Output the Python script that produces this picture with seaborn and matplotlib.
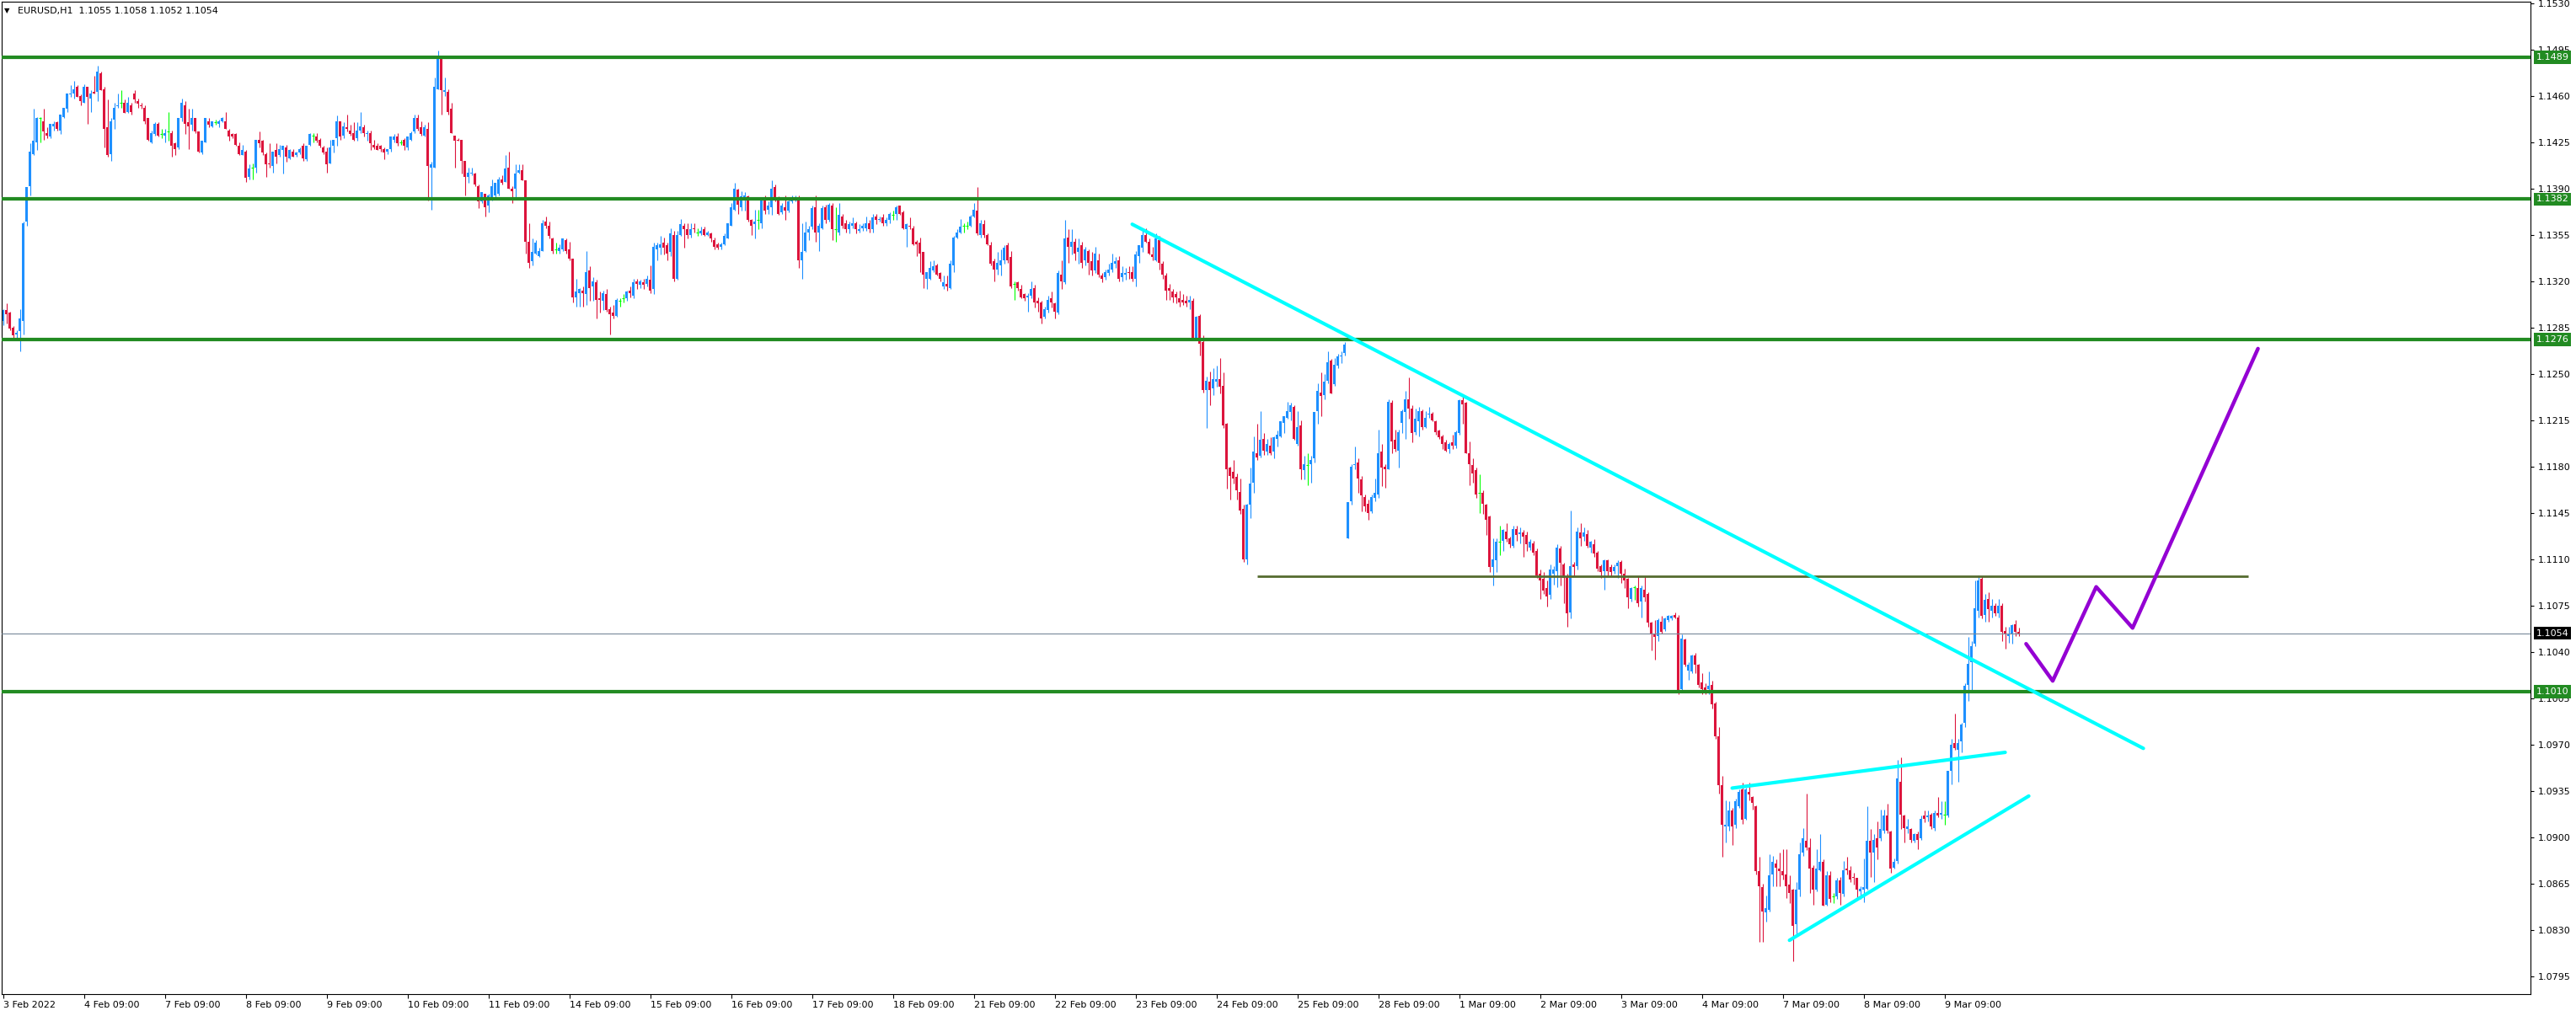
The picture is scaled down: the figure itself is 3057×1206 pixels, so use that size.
import numpy as np
import pandas as pd
import matplotlib
matplotlib.use("Agg")
import matplotlib.pyplot as plt
import seaborn as sns

# ---------------- data (EURUSD H1, 3 Feb 2022 09:00 -> 10 Mar 2022 07:00) ----------------
symbol = "EURUSD,H1"

opens = [
    1.1290, 1.1298, 1.1296, 1.1285, 1.1280, 1.1282, 1.1290, 1.1365, 1.1392, 1.1416,
    1.1425, 1.1443, 1.1441, 1.1432, 1.1429, 1.1437, 1.1440, 1.1434, 1.1444, 1.1450,
    1.1461, 1.1462, 1.1467, 1.1460, 1.1455, 1.1467, 1.1458, 1.1463, 1.1463, 1.1477,
    1.1465, 1.1436, 1.1416, 1.1442, 1.1452, 1.1455, 1.1455, 1.1448, 1.1453, 1.1462,
    1.1456, 1.1453, 1.1451, 1.1443, 1.1425, 1.1431, 1.1439, 1.1431, 1.1430, 1.1433,
    1.1432, 1.1424, 1.1421, 1.1443, 1.1453, 1.1440, 1.1438, 1.1443, 1.1433, 1.1417,
    1.1425, 1.1441, 1.1437, 1.1440, 1.1439, 1.1441, 1.1441, 1.1434, 1.1431, 1.1431,
    1.1422, 1.1415, 1.1418, 1.1399, 1.1406, 1.1406, 1.1427, 1.1426, 1.1416, 1.1409,
    1.1407, 1.1419, 1.1415, 1.1419, 1.1421, 1.1413, 1.1418, 1.1415, 1.1417, 1.1422,
    1.1412, 1.1423, 1.1430, 1.1429, 1.1427, 1.1421, 1.1418, 1.1409, 1.1422, 1.1428,
    1.1441, 1.1430, 1.1436, 1.1434, 1.1432, 1.1428, 1.1434, 1.1436, 1.1431, 1.1432,
    1.1423, 1.1422, 1.1422, 1.1420, 1.1418, 1.1420, 1.1427, 1.1429, 1.1425, 1.1427,
    1.1421, 1.1427, 1.1433, 1.1443, 1.1436, 1.1430, 1.1435, 1.1406, 1.1406, 1.1465,
    1.1488, 1.1463, 1.1463, 1.1450, 1.1430, 1.1427, 1.1427, 1.1411, 1.1399, 1.1401,
    1.1401, 1.1392, 1.1380, 1.1386, 1.1377, 1.1382, 1.1385, 1.1386, 1.1397, 1.1395,
    1.1406, 1.1390, 1.1390, 1.1402, 1.1404, 1.1396, 1.1350, 1.1335, 1.1341, 1.1339,
    1.1343, 1.1365, 1.1362, 1.1352, 1.1344, 1.1343, 1.1344, 1.1351, 1.1344, 1.1337,
    1.1308, 1.1311, 1.1313, 1.1310, 1.1328, 1.1316, 1.1319, 1.1307, 1.1305, 1.1310,
    1.1299, 1.1296, 1.1294, 1.1305, 1.1307, 1.1307, 1.1313, 1.1309, 1.1320, 1.1317,
    1.1319, 1.1318, 1.1321, 1.1314, 1.1344, 1.1345, 1.1349, 1.1347, 1.1342, 1.1355,
    1.1322, 1.1355, 1.1362, 1.1359, 1.1355, 1.1360, 1.1357, 1.1356, 1.1359, 1.1355,
    1.1356, 1.1351, 1.1348, 1.1346, 1.1348, 1.1352, 1.1362, 1.1374, 1.1389, 1.1376,
    1.1382, 1.1384, 1.1366, 1.1363, 1.1366, 1.1364, 1.1383, 1.1374, 1.1376, 1.1391,
    1.1383, 1.1372, 1.1376, 1.1373, 1.1380, 1.1381, 1.1382, 1.1336, 1.1343, 1.1357,
    1.1361, 1.1376, 1.1357, 1.1360, 1.1376, 1.1366, 1.1377, 1.1359, 1.1357, 1.1369,
    1.1364, 1.1359, 1.1362, 1.1364, 1.1358, 1.1360, 1.1360, 1.1364, 1.1359, 1.1369,
    1.1366, 1.1368, 1.1364, 1.1366, 1.1370, 1.1371, 1.1377, 1.1372, 1.1359, 1.1362,
    1.1360, 1.1350, 1.1349, 1.1342, 1.1322, 1.1322, 1.1328, 1.1332, 1.1326, 1.1316,
    1.1318, 1.1315, 1.1332, 1.1353, 1.1357, 1.1362, 1.1362, 1.1362, 1.1369, 1.1373,
    1.1355, 1.1363, 1.1355, 1.1347, 1.1335, 1.1329, 1.1332, 1.1336, 1.1347, 1.1338,
    1.1318, 1.1319, 1.1314, 1.1310, 1.1308, 1.1309, 1.1315, 1.1305, 1.1304, 1.1293,
    1.1298, 1.1307, 1.1303, 1.1296, 1.1325, 1.1319, 1.1353, 1.1346, 1.1350, 1.1342,
    1.1347, 1.1336, 1.1343, 1.1335, 1.1328, 1.1336, 1.1324, 1.1323, 1.1326, 1.1329,
    1.1333, 1.1336, 1.1323, 1.1325, 1.1327, 1.1327, 1.1322, 1.1339, 1.1345, 1.1355,
    1.1350, 1.1340, 1.1336, 1.1351, 1.1333, 1.1324, 1.1315, 1.1312, 1.1310, 1.1307,
    1.1306, 1.1305, 1.1304, 1.1305, 1.1277, 1.1294, 1.1274, 1.1238, 1.1244, 1.1239,
    1.1244, 1.1246, 1.1241, 1.1212, 1.1179, 1.1176, 1.1172, 1.1161, 1.1148, 1.1110,
    1.1151, 1.1168, 1.1190, 1.1188, 1.1201, 1.1191, 1.1196, 1.1191, 1.1201, 1.1203,
    1.1213, 1.1217, 1.1221, 1.1225, 1.1197, 1.1211, 1.1177, 1.1181, 1.1182, 1.1186,
    1.1222, 1.1236, 1.1234, 1.1245, 1.1260, 1.1242, 1.1256, 1.1263, 1.1266, 1.1126,
    1.1154, 1.1181, 1.1183, 1.1170, 1.1157, 1.1152, 1.1146, 1.1156, 1.1159, 1.1191,
    1.1180, 1.1178, 1.1228, 1.1200, 1.1192, 1.1213, 1.1221, 1.1231, 1.1224, 1.1206,
    1.1214, 1.1222, 1.1210, 1.1219, 1.1220, 1.1214, 1.1207, 1.1203, 1.1198, 1.1193,
    1.1198, 1.1196, 1.1205, 1.1230, 1.1228, 1.1190, 1.1181, 1.1177, 1.1160, 1.1160,
    1.1151, 1.1142, 1.1104, 1.1109, 1.1123, 1.1124, 1.1131, 1.1126, 1.1120, 1.1133,
    1.1129, 1.1130, 1.1128, 1.1119, 1.1122, 1.1116, 1.1099, 1.1095, 1.1088, 1.1083,
    1.1099, 1.1101, 1.1118, 1.1106, 1.1097, 1.1070, 1.1106, 1.1105, 1.1130, 1.1127,
    1.1129, 1.1119, 1.1121, 1.1115, 1.1105, 1.1101, 1.1109, 1.1104, 1.1101, 1.1105,
    1.1108, 1.1099, 1.1095, 1.1080, 1.1089, 1.1088, 1.1078, 1.1087, 1.1084, 1.1062,
    1.1054, 1.1052, 1.1063, 1.1057, 1.1064, 1.1065, 1.1068, 1.1066, 1.1012, 1.1049,
    1.1026, 1.1025, 1.1037, 1.1030, 1.1017, 1.1013, 1.1012, 1.1015, 1.1001, 1.0976,
    1.0939, 1.0908, 1.0908, 1.0920, 1.0909, 1.0923, 1.0936, 1.0914, 1.0934, 1.0930,
    1.0923, 1.0874, 1.0862, 1.0843, 1.0845, 1.0872, 1.0880, 1.0876, 1.0874, 1.0872,
    1.0864, 1.0860, 1.0834, 1.0860, 1.0888, 1.0897, 1.0892, 1.0877, 1.0860, 1.0875,
    1.0881, 1.0849, 1.0871, 1.0855, 1.0855, 1.0867, 1.0857, 1.0876, 1.0875, 1.0870,
    1.0869, 1.0859, 1.0860, 1.0861, 1.0897, 1.0888, 1.0899, 1.0899, 1.0905, 1.0916,
    1.0904, 1.0877, 1.0882, 1.0942, 1.0916, 1.0906, 1.0906, 1.0897, 1.0902, 1.0899,
    1.0916, 1.0915, 1.0917, 1.0907, 1.0918, 1.0917, 1.0917, 1.0916, 1.0950, 1.0971,
    1.0966, 1.0972, 1.0986, 1.1015, 1.1032, 1.1046, 1.1071, 1.1095, 1.1068, 1.1080,
    1.1071, 1.1075, 1.1069, 1.1075, 1.1056, 1.1052, 1.1054, 1.1061, 1.1055,
]

highs = [
    1.1299, 1.1303, 1.1297, 1.1286, 1.1283, 1.1299, 1.1365, 1.1391, 1.1424, 1.1450,
    1.1444, 1.1444, 1.1450, 1.1436, 1.1439, 1.1441, 1.1441, 1.1446, 1.1451, 1.1462,
    1.1468, 1.1471, 1.1468, 1.1461, 1.1469, 1.1467, 1.1464, 1.1475, 1.1483, 1.1478,
    1.1467, 1.1457, 1.1443, 1.1455, 1.1462, 1.1464, 1.1457, 1.1459, 1.1455, 1.1464,
    1.1458, 1.1455, 1.1453, 1.1443, 1.1434, 1.1440, 1.1440, 1.1435, 1.1435, 1.1448,
    1.1434, 1.1425, 1.1443, 1.1458, 1.1456, 1.1450, 1.1450, 1.1443, 1.1433, 1.1426,
    1.1443, 1.1443, 1.1441, 1.1442, 1.1442, 1.1444, 1.1448, 1.1435, 1.1432, 1.1432,
    1.1425, 1.1423, 1.1419, 1.1408, 1.1409, 1.1427, 1.1433, 1.1427, 1.1417, 1.1424,
    1.1418, 1.1424, 1.1423, 1.1422, 1.1423, 1.1420, 1.1420, 1.1418, 1.1421, 1.1424,
    1.1422, 1.1432, 1.1432, 1.1432, 1.1428, 1.1422, 1.1421, 1.1427, 1.1427, 1.1445,
    1.1441, 1.1440, 1.1446, 1.1438, 1.1440, 1.1440, 1.1448, 1.1438, 1.1434, 1.1434,
    1.1427, 1.1424, 1.1423, 1.1421, 1.1420, 1.1429, 1.1431, 1.1432, 1.1427, 1.1428,
    1.1429, 1.1433, 1.1446, 1.1446, 1.1441, 1.1438, 1.1440, 1.1410, 1.1474, 1.1494,
    1.1489, 1.1474, 1.1465, 1.1455, 1.1430, 1.1428, 1.1427, 1.1411, 1.1406, 1.1406,
    1.1402, 1.1393, 1.1387, 1.1386, 1.1386, 1.1397, 1.1394, 1.1399, 1.1400, 1.1415,
    1.1418, 1.1392, 1.1408, 1.1408, 1.1408, 1.1396, 1.1364, 1.1352, 1.1351, 1.1345,
    1.1366, 1.1369, 1.1365, 1.1353, 1.1349, 1.1348, 1.1352, 1.1352, 1.1350, 1.1337,
    1.1322, 1.1315, 1.1316, 1.1343, 1.1331, 1.1323, 1.1321, 1.1312, 1.1313, 1.1314,
    1.1301, 1.1302, 1.1307, 1.1307, 1.1310, 1.1313, 1.1316, 1.1322, 1.1322, 1.1321,
    1.1322, 1.1324, 1.1332, 1.1349, 1.1349, 1.1354, 1.1353, 1.1349, 1.1360, 1.1358,
    1.1358, 1.1367, 1.1364, 1.1364, 1.1364, 1.1364, 1.1360, 1.1361, 1.1361, 1.1358,
    1.1357, 1.1353, 1.1349, 1.1349, 1.1356, 1.1364, 1.1379, 1.1394, 1.1390, 1.1388,
    1.1387, 1.1385, 1.1367, 1.1374, 1.1374, 1.1383, 1.1385, 1.1380, 1.1396, 1.1393,
    1.1384, 1.1379, 1.1385, 1.1383, 1.1385, 1.1385, 1.1385, 1.1364, 1.1365, 1.1362,
    1.1377, 1.1385, 1.1364, 1.1377, 1.1378, 1.1379, 1.1379, 1.1376, 1.1379, 1.1371,
    1.1366, 1.1365, 1.1368, 1.1365, 1.1363, 1.1364, 1.1369, 1.1366, 1.1371, 1.1371,
    1.1369, 1.1371, 1.1368, 1.1372, 1.1373, 1.1377, 1.1377, 1.1373, 1.1364, 1.1368,
    1.1362, 1.1351, 1.1353, 1.1342, 1.1327, 1.1335, 1.1336, 1.1333, 1.1327, 1.1324,
    1.1324, 1.1336, 1.1354, 1.1359, 1.1367, 1.1364, 1.1365, 1.1370, 1.1379, 1.1391,
    1.1366, 1.1366, 1.1356, 1.1350, 1.1337, 1.1342, 1.1344, 1.1347, 1.1349, 1.1343,
    1.1320, 1.1320, 1.1317, 1.1311, 1.1311, 1.1320, 1.1317, 1.1308, 1.1305, 1.1301,
    1.1309, 1.1312, 1.1304, 1.1328, 1.1336, 1.1366, 1.1359, 1.1359, 1.1352, 1.1352,
    1.1350, 1.1346, 1.1344, 1.1342, 1.1346, 1.1341, 1.1326, 1.1329, 1.1333, 1.1341,
    1.1338, 1.1339, 1.1331, 1.1330, 1.1331, 1.1331, 1.1343, 1.1347, 1.1360, 1.1360,
    1.1352, 1.1346, 1.1356, 1.1354, 1.1335, 1.1326, 1.1318, 1.1314, 1.1312, 1.1313,
    1.1310, 1.1309, 1.1309, 1.1307, 1.1294, 1.1295, 1.1279, 1.1248, 1.1252, 1.1254,
    1.1256, 1.1262, 1.1251, 1.1213, 1.1180, 1.1185, 1.1175, 1.1171, 1.1151, 1.1152,
    1.1179, 1.1203, 1.1212, 1.1222, 1.1205, 1.1201, 1.1202, 1.1203, 1.1207, 1.1214,
    1.1218, 1.1229, 1.1228, 1.1226, 1.1222, 1.1215, 1.1188, 1.1190, 1.1188, 1.1221,
    1.1243, 1.1251, 1.1250, 1.1267, 1.1261, 1.1262, 1.1265, 1.1267, 1.1274, 1.1153,
    1.1182, 1.1195, 1.1186, 1.1173, 1.1159, 1.1155, 1.1159, 1.1171, 1.1208, 1.1197,
    1.1182, 1.1231, 1.1230, 1.1208, 1.1208, 1.1223, 1.1237, 1.1247, 1.1226, 1.1224,
    1.1225, 1.1223, 1.1222, 1.1225, 1.1221, 1.1215, 1.1208, 1.1204, 1.1200, 1.1198,
    1.1204, 1.1207, 1.1231, 1.1233, 1.1229, 1.1199, 1.1186, 1.1179, 1.1174, 1.1162,
    1.1152, 1.1143, 1.1126, 1.1126, 1.1135, 1.1133, 1.1137, 1.1127, 1.1135, 1.1135,
    1.1134, 1.1132, 1.1131, 1.1125, 1.1124, 1.1118, 1.1102, 1.1100, 1.1094, 1.1106,
    1.1105, 1.1121, 1.1120, 1.1107, 1.1099, 1.1147, 1.1108, 1.1134, 1.1137, 1.1134,
    1.1132, 1.1124, 1.1125, 1.1116, 1.1106, 1.1110, 1.1110, 1.1106, 1.1106, 1.1109,
    1.1109, 1.1103, 1.1096, 1.1089, 1.1090, 1.1097, 1.1090, 1.1097, 1.1085, 1.1063,
    1.1064, 1.1065, 1.1067, 1.1066, 1.1068, 1.1068, 1.1070, 1.1068, 1.1053, 1.1050,
    1.1032, 1.1038, 1.1039, 1.1031, 1.1024, 1.1016, 1.1025, 1.1018, 1.1002, 1.0983,
    1.0946, 1.0928, 1.0927, 1.0922, 1.0929, 1.0936, 1.0941, 1.0937, 1.0941, 1.0931,
    1.0924, 1.0885, 1.0865, 1.0856, 1.0887, 1.0886, 1.0883, 1.0888, 1.0891, 1.0891,
    1.0871, 1.0861, 1.0866, 1.0896, 1.0907, 1.0933, 1.0899, 1.0879, 1.0891, 1.0902,
    1.0883, 1.0874, 1.0874, 1.0858, 1.0869, 1.0870, 1.0882, 1.0885, 1.0878, 1.0873,
    1.0869, 1.0863, 1.0884, 1.0923, 1.0906, 1.0902, 1.0912, 1.0921, 1.0921, 1.0925,
    1.0905, 1.0884, 1.0958, 1.0960, 1.0917, 1.0914, 1.0907, 1.0903, 1.0904, 1.0916,
    1.0920, 1.0920, 1.0918, 1.0920, 1.0930, 1.0927, 1.0927, 1.0950, 1.0974, 1.0993,
    1.0974, 1.0986, 1.1016, 1.1051, 1.1048, 1.1094, 1.1098, 1.1097, 1.1084, 1.1085,
    1.1080, 1.1077, 1.1080, 1.1077, 1.1059, 1.1059, 1.1061, 1.1064, 1.1058,
]

lows = [
    1.1287, 1.1288, 1.1283, 1.1277, 1.1276, 1.1267, 1.1280, 1.1362, 1.1385, 1.1415,
    1.1419, 1.1425, 1.1427, 1.1428, 1.1428, 1.1434, 1.1434, 1.1431, 1.1443, 1.1448,
    1.1459, 1.1458, 1.1459, 1.1453, 1.1455, 1.1439, 1.1448, 1.1462, 1.1456, 1.1464,
    1.1421, 1.1414, 1.1411, 1.1435, 1.1451, 1.1451, 1.1447, 1.1447, 1.1446, 1.1455,
    1.1451, 1.1450, 1.1439, 1.1426, 1.1424, 1.1430, 1.1429, 1.1428, 1.1425, 1.1426,
    1.1414, 1.1415, 1.1420, 1.1441, 1.1431, 1.1420, 1.1434, 1.1432, 1.1417, 1.1416,
    1.1425, 1.1436, 1.1436, 1.1438, 1.1436, 1.1440, 1.1435, 1.1426, 1.1428, 1.1422,
    1.1415, 1.1415, 1.1395, 1.1397, 1.1397, 1.1402, 1.1421, 1.1415, 1.1399, 1.1406,
    1.1402, 1.1409, 1.1414, 1.1401, 1.1410, 1.1412, 1.1414, 1.1414, 1.1416, 1.1411,
    1.1411, 1.1422, 1.1425, 1.1425, 1.1421, 1.1416, 1.1402, 1.1409, 1.1417, 1.1422,
    1.1427, 1.1428, 1.1433, 1.1430, 1.1426, 1.1426, 1.1432, 1.1429, 1.1426, 1.1419,
    1.1420, 1.1419, 1.1418, 1.1412, 1.1416, 1.1418, 1.1425, 1.1422, 1.1423, 1.1419,
    1.1419, 1.1426, 1.1432, 1.1434, 1.1430, 1.1429, 1.1381, 1.1374, 1.1406, 1.1465,
    1.1446, 1.1460, 1.1446, 1.1432, 1.1406, 1.1426, 1.1401, 1.1385, 1.1394, 1.1400,
    1.1392, 1.1375, 1.1379, 1.1369, 1.1372, 1.1381, 1.1382, 1.1385, 1.1393, 1.1395,
    1.1390, 1.1379, 1.1383, 1.1401, 1.1396, 1.1341, 1.1330, 1.1332, 1.1340, 1.1338,
    1.1343, 1.1360, 1.1352, 1.1341, 1.1341, 1.1341, 1.1343, 1.1341, 1.1336, 1.1304,
    1.1301, 1.1301, 1.1301, 1.1302, 1.1305, 1.1305, 1.1292, 1.1296, 1.1298, 1.1297,
    1.1280, 1.1292, 1.1293, 1.1301, 1.1304, 1.1305, 1.1308, 1.1307, 1.1314, 1.1315,
    1.1314, 1.1316, 1.1311, 1.1310, 1.1336, 1.1340, 1.1340, 1.1336, 1.1339, 1.1320,
    1.1321, 1.1354, 1.1345, 1.1352, 1.1353, 1.1357, 1.1354, 1.1355, 1.1354, 1.1354,
    1.1350, 1.1344, 1.1344, 1.1344, 1.1347, 1.1352, 1.1362, 1.1373, 1.1371, 1.1373,
    1.1373, 1.1365, 1.1355, 1.1352, 1.1359, 1.1360, 1.1371, 1.1371, 1.1370, 1.1380,
    1.1370, 1.1371, 1.1366, 1.1372, 1.1379, 1.1380, 1.1330, 1.1322, 1.1342, 1.1351,
    1.1359, 1.1350, 1.1343, 1.1359, 1.1364, 1.1365, 1.1351, 1.1350, 1.1355, 1.1360,
    1.1357, 1.1356, 1.1360, 1.1356, 1.1357, 1.1358, 1.1358, 1.1357, 1.1357, 1.1363,
    1.1365, 1.1362, 1.1362, 1.1364, 1.1366, 1.1366, 1.1370, 1.1359, 1.1346, 1.1359,
    1.1347, 1.1339, 1.1327, 1.1315, 1.1314, 1.1321, 1.1327, 1.1324, 1.1320, 1.1314,
    1.1313, 1.1314, 1.1327, 1.1352, 1.1356, 1.1357, 1.1359, 1.1361, 1.1368, 1.1355,
    1.1353, 1.1353, 1.1347, 1.1332, 1.1320, 1.1325, 1.1324, 1.1333, 1.1334, 1.1315,
    1.1306, 1.1313, 1.1307, 1.1305, 1.1297, 1.1307, 1.1300, 1.1297, 1.1288, 1.1292,
    1.1296, 1.1300, 1.1292, 1.1295, 1.1314, 1.1318, 1.1334, 1.1340, 1.1336, 1.1333,
    1.1330, 1.1332, 1.1325, 1.1324, 1.1326, 1.1323, 1.1319, 1.1321, 1.1324, 1.1327,
    1.1330, 1.1320, 1.1320, 1.1321, 1.1322, 1.1320, 1.1316, 1.1334, 1.1342, 1.1349,
    1.1340, 1.1336, 1.1335, 1.1329, 1.1322, 1.1306, 1.1306, 1.1304, 1.1303, 1.1301,
    1.1302, 1.1301, 1.1299, 1.1275, 1.1275, 1.1264, 1.1236, 1.1209, 1.1226, 1.1234,
    1.1240, 1.1235, 1.1209, 1.1163, 1.1155, 1.1167, 1.1155, 1.1144, 1.1108, 1.1106,
    1.1141, 1.1160, 1.1185, 1.1187, 1.1189, 1.1189, 1.1189, 1.1186, 1.1195, 1.1202,
    1.1205, 1.1216, 1.1215, 1.1200, 1.1196, 1.1170, 1.1170, 1.1166, 1.1168, 1.1183,
    1.1212, 1.1218, 1.1231, 1.1243, 1.1235, 1.1241, 1.1254, 1.1258, 1.1264, 1.1126,
    1.1151, 1.1178, 1.1160, 1.1146, 1.1146, 1.1140, 1.1145, 1.1154, 1.1156, 1.1165,
    1.1164, 1.1178, 1.1190, 1.1191, 1.1179, 1.1205, 1.1201, 1.1216, 1.1198, 1.1204,
    1.1203, 1.1208, 1.1209, 1.1217, 1.1214, 1.1204, 1.1201, 1.1193, 1.1191, 1.1190,
    1.1193, 1.1194, 1.1204, 1.1212, 1.1190, 1.1166, 1.1168, 1.1156, 1.1145, 1.1144,
    1.1128, 1.1100, 1.1090, 1.1100, 1.1113, 1.1116, 1.1123, 1.1119, 1.1119, 1.1124,
    1.1122, 1.1112, 1.1116, 1.1117, 1.1113, 1.1096, 1.1080, 1.1084, 1.1074, 1.1080,
    1.1091, 1.1089, 1.1090, 1.1077, 1.1059, 1.1065, 1.1097, 1.1102, 1.1120, 1.1124,
    1.1119, 1.1115, 1.1112, 1.1101, 1.1096, 1.1087, 1.1098, 1.1097, 1.1099, 1.1096,
    1.1092, 1.1088, 1.1073, 1.1078, 1.1079, 1.1074, 1.1066, 1.1078, 1.1059, 1.1041,
    1.1034, 1.1048, 1.1054, 1.1056, 1.1063, 1.1064, 1.1065, 1.1008, 1.1010, 1.1029,
    1.1019, 1.1024, 1.1024, 1.1013, 1.1008, 1.1008, 1.1008, 1.0997, 1.0974, 1.0933,
    1.0885, 1.0896, 1.0905, 1.0894, 1.0907, 1.0922, 1.0910, 1.0913, 1.0928, 1.0921,
    1.0872, 1.0821, 1.0821, 1.0836, 1.0844, 1.0863, 1.0863, 1.0863, 1.0868, 1.0854,
    1.0850, 1.0806, 1.0825, 1.0855, 1.0886, 1.0890, 1.0858, 1.0849, 1.0859, 1.0874,
    1.0848, 1.0848, 1.0851, 1.0850, 1.0853, 1.0849, 1.0855, 1.0872, 1.0866, 1.0864,
    1.0854, 1.0853, 1.0851, 1.0860, 1.0870, 1.0866, 1.0883, 1.0897, 1.0903, 1.0903,
    1.0873, 1.0876, 1.0880, 1.0906, 1.0896, 1.0903, 1.0896, 1.0896, 1.0891, 1.0898,
    1.0911, 1.0912, 1.0906, 1.0905, 1.0915, 1.0914, 1.0909, 1.0915, 1.0940, 1.0966,
    1.0942, 1.0964, 1.0983, 1.1003, 1.1011, 1.1044, 1.1066, 1.1065, 1.1063, 1.1063,
    1.1066, 1.1067, 1.1066, 1.1048, 1.1042, 1.1047, 1.1046, 1.1052, 1.1052,
]

closes = [
    1.1298, 1.1295, 1.1284, 1.1279, 1.1281, 1.1292, 1.1364, 1.1391, 1.1418, 1.1426,
    1.1443, 1.1443, 1.1433, 1.1430, 1.1439, 1.1439, 1.1435, 1.1446, 1.1451, 1.1462,
    1.1462, 1.1465, 1.1459, 1.1456, 1.1467, 1.1459, 1.1462, 1.1462, 1.1478, 1.1464,
    1.1435, 1.1415, 1.1441, 1.1451, 1.1453, 1.1455, 1.1447, 1.1455, 1.1448, 1.1457,
    1.1454, 1.1452, 1.1441, 1.1427, 1.1432, 1.1439, 1.1430, 1.1431, 1.1432, 1.1433,
    1.1422, 1.1420, 1.1443, 1.1455, 1.1439, 1.1437, 1.1443, 1.1433, 1.1418, 1.1426,
    1.1443, 1.1438, 1.1441, 1.1440, 1.1441, 1.1443, 1.1435, 1.1429, 1.1429, 1.1423,
    1.1416, 1.1419, 1.1398, 1.1405, 1.1406, 1.1427, 1.1424, 1.1417, 1.1408, 1.1408,
    1.1418, 1.1414, 1.1420, 1.1422, 1.1414, 1.1419, 1.1414, 1.1417, 1.1420, 1.1413,
    1.1422, 1.1431, 1.1430, 1.1426, 1.1422, 1.1417, 1.1408, 1.1421, 1.1427, 1.1441,
    1.1429, 1.1437, 1.1435, 1.1431, 1.1427, 1.1434, 1.1437, 1.1432, 1.1432, 1.1424,
    1.1421, 1.1419, 1.1420, 1.1417, 1.1420, 1.1429, 1.1429, 1.1424, 1.1425, 1.1422,
    1.1429, 1.1432, 1.1443, 1.1435, 1.1431, 1.1436, 1.1407, 1.1408, 1.1467, 1.1488,
    1.1464, 1.1464, 1.1448, 1.1432, 1.1426, 1.1426, 1.1411, 1.1399, 1.1402, 1.1402,
    1.1393, 1.1380, 1.1387, 1.1376, 1.1385, 1.1392, 1.1394, 1.1397, 1.1394, 1.1405,
    1.1390, 1.1388, 1.1401, 1.1404, 1.1396, 1.1350, 1.1334, 1.1342, 1.1349, 1.1343,
    1.1364, 1.1362, 1.1354, 1.1343, 1.1344, 1.1345, 1.1352, 1.1343, 1.1337, 1.1308,
    1.1312, 1.1314, 1.1311, 1.1327, 1.1315, 1.1320, 1.1306, 1.1306, 1.1311, 1.1298,
    1.1295, 1.1294, 1.1306, 1.1305, 1.1307, 1.1312, 1.1311, 1.1319, 1.1318, 1.1320,
    1.1317, 1.1322, 1.1313, 1.1346, 1.1347, 1.1348, 1.1345, 1.1341, 1.1356, 1.1322,
    1.1355, 1.1363, 1.1359, 1.1355, 1.1359, 1.1359, 1.1357, 1.1358, 1.1355, 1.1357,
    1.1352, 1.1346, 1.1345, 1.1348, 1.1354, 1.1364, 1.1376, 1.1390, 1.1378, 1.1384,
    1.1385, 1.1366, 1.1362, 1.1365, 1.1366, 1.1381, 1.1373, 1.1377, 1.1390, 1.1381,
    1.1371, 1.1377, 1.1373, 1.1380, 1.1382, 1.1383, 1.1336, 1.1342, 1.1357, 1.1359,
    1.1375, 1.1357, 1.1362, 1.1375, 1.1366, 1.1378, 1.1359, 1.1359, 1.1370, 1.1362,
    1.1359, 1.1363, 1.1364, 1.1359, 1.1359, 1.1362, 1.1364, 1.1359, 1.1368, 1.1366,
    1.1367, 1.1364, 1.1366, 1.1371, 1.1370, 1.1376, 1.1371, 1.1360, 1.1363, 1.1361,
    1.1348, 1.1348, 1.1341, 1.1325, 1.1327, 1.1330, 1.1331, 1.1325, 1.1322, 1.1319,
    1.1316, 1.1333, 1.1353, 1.1357, 1.1361, 1.1362, 1.1362, 1.1369, 1.1374, 1.1356,
    1.1364, 1.1355, 1.1348, 1.1333, 1.1329, 1.1334, 1.1336, 1.1345, 1.1336, 1.1316,
    1.1318, 1.1315, 1.1308, 1.1307, 1.1309, 1.1314, 1.1304, 1.1303, 1.1292, 1.1299,
    1.1306, 1.1304, 1.1297, 1.1326, 1.1320, 1.1352, 1.1346, 1.1350, 1.1341, 1.1345,
    1.1334, 1.1344, 1.1334, 1.1328, 1.1341, 1.1325, 1.1322, 1.1327, 1.1329, 1.1334,
    1.1335, 1.1322, 1.1326, 1.1326, 1.1326, 1.1322, 1.1340, 1.1347, 1.1355, 1.1350,
    1.1341, 1.1338, 1.1352, 1.1334, 1.1325, 1.1313, 1.1313, 1.1308, 1.1308, 1.1304,
    1.1304, 1.1303, 1.1306, 1.1276, 1.1293, 1.1273, 1.1238, 1.1245, 1.1238, 1.1246,
    1.1246, 1.1240, 1.1211, 1.1178, 1.1173, 1.1171, 1.1162, 1.1147, 1.1110, 1.1151,
    1.1167, 1.1191, 1.1187, 1.1200, 1.1192, 1.1197, 1.1190, 1.1202, 1.1204, 1.1214,
    1.1218, 1.1222, 1.1226, 1.1201, 1.1210, 1.1178, 1.1182, 1.1181, 1.1185, 1.1221,
    1.1237, 1.1233, 1.1244, 1.1259, 1.1235, 1.1257, 1.1263, 1.1264, 1.1272, 1.1153,
    1.1180, 1.1182, 1.1171, 1.1158, 1.1150, 1.1145, 1.1157, 1.1160, 1.1190, 1.1179,
    1.1178, 1.1229, 1.1199, 1.1193, 1.1206, 1.1222, 1.1231, 1.1224, 1.1205, 1.1216,
    1.1222, 1.1210, 1.1217, 1.1220, 1.1215, 1.1206, 1.1202, 1.1197, 1.1192, 1.1197,
    1.1196, 1.1206, 1.1230, 1.1227, 1.1190, 1.1182, 1.1175, 1.1159, 1.1160, 1.1152,
    1.1140, 1.1104, 1.1110, 1.1123, 1.1123, 1.1132, 1.1125, 1.1121, 1.1133, 1.1128,
    1.1130, 1.1127, 1.1121, 1.1123, 1.1115, 1.1098, 1.1094, 1.1086, 1.1082, 1.1102,
    1.1102, 1.1119, 1.1107, 1.1096, 1.1069, 1.1105, 1.1104, 1.1131, 1.1126, 1.1130,
    1.1120, 1.1123, 1.1114, 1.1103, 1.1100, 1.1109, 1.1101, 1.1100, 1.1104, 1.1107,
    1.1099, 1.1094, 1.1081, 1.1088, 1.1089, 1.1077, 1.1088, 1.1081, 1.1062, 1.1054,
    1.1051, 1.1064, 1.1055, 1.1065, 1.1067, 1.1067, 1.1066, 1.1010, 1.1050, 1.1030,
    1.1030, 1.1037, 1.1030, 1.1015, 1.1012, 1.1011, 1.1014, 1.1000, 1.0976, 1.0939,
    1.0909, 1.0909, 1.0920, 1.0908, 1.0927, 1.0934, 1.0913, 1.0936, 1.0932, 1.0926,
    1.0874, 1.0863, 1.0844, 1.0846, 1.0871, 1.0881, 1.0877, 1.0874, 1.0871, 1.0863,
    1.0858, 1.0833, 1.0860, 1.0887, 1.0899, 1.0892, 1.0876, 1.0860, 1.0876, 1.0881,
    1.0848, 1.0871, 1.0853, 1.0855, 1.0867, 1.0858, 1.0875, 1.0875, 1.0868, 1.0869,
    1.0860, 1.0861, 1.0862, 1.0897, 1.0888, 1.0898, 1.0892, 1.0906, 1.0916, 1.0905,
    1.0876, 1.0881, 1.0944, 1.0917, 1.0907, 1.0908, 1.0898, 1.0902, 1.0898, 1.0914,
    1.0914, 1.0916, 1.0908, 1.0918, 1.0916, 1.0918, 1.0917, 1.0950, 1.0970, 1.0967,
    1.0971, 1.0985, 1.1014, 1.1031, 1.1044, 1.1073, 1.1094, 1.1067, 1.1079, 1.1072,
    1.1075, 1.1069, 1.1075, 1.1055, 1.1053, 1.1054, 1.1060, 1.1055, 1.1054,
]

# one label every 24 bars, starting at the first bar
day_labels = [
    "3 Feb 2022", "4 Feb 09:00", "7 Feb 09:00", "8 Feb 09:00", "9 Feb 09:00",
    "10 Feb 09:00", "11 Feb 09:00", "14 Feb 09:00", "15 Feb 09:00", "16 Feb 09:00",
    "17 Feb 09:00", "18 Feb 09:00", "21 Feb 09:00", "22 Feb 09:00", "23 Feb 09:00",
    "24 Feb 09:00", "25 Feb 09:00", "28 Feb 09:00", "1 Mar 09:00", "2 Mar 09:00",
    "3 Mar 09:00", "4 Mar 09:00", "7 Mar 09:00", "8 Mar 09:00", "9 Mar 09:00",
]
price_ticks = [1.1530, 1.1495, 1.1460, 1.1425, 1.1390, 1.1355, 1.1320, 1.1285,
               1.1250, 1.1215, 1.1180, 1.1145, 1.1110, 1.1075, 1.1040, 1.1005,
               1.0970, 1.0935, 1.0900, 1.0865, 1.0830, 1.0795]

# drawn objects (bar index, price)
levels = [1.1489, 1.1382, 1.1276, 1.1010]
resistance = 1.1097
resistance_bars = [372, 666]
trend_bars, trend_prices = [335, 635], [1.1363, 1.0967]
wedge_top_bars, wedge_top_prices = [513, 594], [1.0937, 1.0964]
wedge_low_bars, wedge_low_prices = [530, 601], [1.0822, 1.0931]
path_bars = [600.2, 608.1, 621.0, 631.8, 669.0]
path_prices = [1.1046, 1.1018, 1.1089, 1.1058, 1.1269]

# ---------------- plotting ----------------
UP = "#1E90FF"
DOWN = "#DC143C"
DOJI = "#00FF00"
LEVEL = "#228B22"

sns.set_style("white")
plt.rcParams['font.family'] = ['DejaVu Sans']

n = min(len(opens), len(highs), len(lows), len(closes))
df = pd.DataFrame({"open": opens[:n], "high": highs[:n], "low": lows[:n], "close": closes[:n]})
df["bar"] = np.arange(n)
df["color"] = np.where(df["close"] > df["open"], UP, np.where(df["close"] < df["open"], DOWN, DOJI))

W, H = 3057, 1206
fig = plt.figure(figsize=(W / 100, H / 100), dpi=100)
ax = fig.add_axes([2 / W, 26 / H, 3001 / W, 1178 / H])

px_per_unit = 15711.0
ytop = 1.1530 + 1.8 / px_per_unit
ax.set_ylim(ytop - 1178 / px_per_unit, ytop)
ax.set_xlim(-0.4, -0.4 + 3001 / 4)

# wicks
wick_lo = np.minimum(df["low"], np.minimum(df["open"], df["close"]))
wick_hi = np.maximum(df["high"], np.maximum(df["open"], df["close"]))
ax.vlines(df["bar"], wick_lo, wick_hi, colors=df["color"], linewidth=0.8, zorder=2)

# bodies
body = df[df["color"] != DOJI]
ax.bar(body["bar"], (body["close"] - body["open"]).abs(),
       bottom=np.minimum(body["open"], body["close"]),
       width=0.72, color=body["color"], linewidth=0, zorder=2)
doji = df[df["color"] == DOJI]
ax.hlines(doji["close"], doji["bar"] - 0.36, doji["bar"] + 0.36, colors=DOJI, linewidth=0.8, zorder=2)

# horizontal objects
for lvl in levels:
    ax.axhline(lvl, color=LEVEL, linewidth=3.0, zorder=4)
ax.hlines(resistance, resistance_bars[0], resistance_bars[1], color="#556B2F", linewidth=2.0, zorder=4)
last_close = closes[n - 1]
ax.axhline(last_close, color="#778899", linewidth=0.8, zorder=3)

# trend lines and projected path
for bx, py in [(trend_bars, trend_prices), (wedge_top_bars, wedge_top_prices),
               (wedge_low_bars, wedge_low_prices)]:
    sns.lineplot(x=bx, y=py, ax=ax, color="#00FFFF", linewidth=3.0,
                 estimator=None, sort=False, zorder=5)
sns.lineplot(x=path_bars, y=path_prices, ax=ax, color="#9400D3", linewidth=3.2,
             estimator=None, sort=False, zorder=5)

# axes look (MetaTrader style)
for s in ax.spines.values():
    s.set_color("black")
    s.set_linewidth(0.8)
ax.yaxis.tick_right()
ax.set_yticks(price_ticks)
ax.set_yticklabels([f"{p:.4f}" for p in price_ticks])
ax.tick_params(axis="y", direction="out", length=3, width=0.8, pad=3, labelsize=8,
               colors="black", right=True, left=False)
ax.set_xticks(np.arange(len(day_labels)) * 24)
ax.set_xticklabels(day_labels)
ax.tick_params(axis="x", direction="out", length=3.5, width=0.8, pad=2, labelsize=8,
               colors="black", bottom=True)
for lbl in ax.get_xticklabels():
    lbl.set_ha("left")
ax.set_xlabel("")
ax.set_ylabel("")
ax.grid(False)

# price tags on the right scale
ytrans = ax.get_yaxis_transform()
for lvl in levels:
    ax.text(1.0022, lvl, f"{lvl:.4f}", transform=ytrans, ha="left", va="center",
            fontsize=8, color="white", clip_on=False, zorder=10,
            bbox=dict(boxstyle="square,pad=0.25", fc=LEVEL, ec="none"))
ax.text(1.0022, last_close, f"{last_close:.4f}", transform=ytrans, ha="left", va="center",
        fontsize=8, color="white", clip_on=False, zorder=10,
        bbox=dict(boxstyle="square,pad=0.25", fc="black", ec="none"))

# header
fig.text(5 / W, 1 - 13 / H, "\u25bc", fontsize=6, va="center", ha="left", color="black")
fig.text(21 / W, 1 - 13 / H,
         f"{symbol}  {opens[n-1]:.4f} {highs[n-1]:.4f} {lows[n-1]:.4f} {closes[n-1]:.4f}",
         fontsize=8, va="center", ha="left", color="black")

fig.savefig("out.png", dpi=100, facecolor="white")
